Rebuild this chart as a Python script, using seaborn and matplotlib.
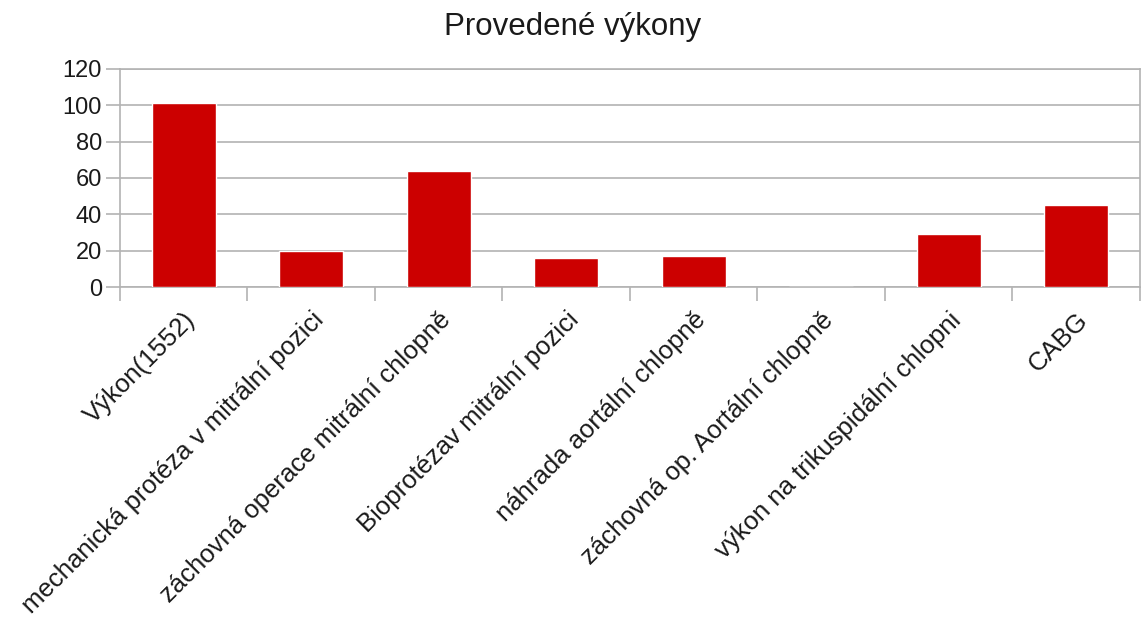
import numpy as np
import pandas as pd
import matplotlib
matplotlib.use("Agg")
import matplotlib.pyplot as plt
import seaborn as sns

categories = [
    "Výkon(1552)",
    "mechanická protéza v mitrální pozici",
    "záchovná operace mitrální chlopně",
    "Bioprotézav mitrální pozici",
    "náhrada aortální chlopně",
    "záchovná op. Aortální chlopně",
    "výkon na trikuspidální chlopni",
    "CABG",
]
counts = [101, 20, 64, 16, 17, 0, 29, 45]
y_ticks = [0, 20, 40, 60, 80, 100, 120]
title = "Provedené výkony"

df = pd.DataFrame({"kategorie": categories, "pocet": counts})

sns.set_style("white")
plt.rcParams["font.family"] = ["Liberation Sans", "DejaVu Sans"]
plt.rcParams["text.color"] = "#1a1a1a"
plt.rcParams["xtick.color"] = "#1a1a1a"
plt.rcParams["ytick.color"] = "#1a1a1a"

grid_col = "#b3b3b3"

fig = plt.figure(figsize=(11.45, 6.2), dpi=100)
ax = fig.add_axes([0.1048, 0.537, 0.8908, 0.352])

sns.barplot(data=df, x="kategorie", y="pocet", color="#cc0000",
            width=0.5, saturation=1, ax=ax, zorder=3)

ax.set_xlim(-0.5, len(categories) - 0.5)
ax.set_ylim(0, 120)
ax.set_yticks(y_ticks)
ax.set_yticklabels([str(v) for v in y_ticks], fontsize=17)
ax.yaxis.grid(True, color=grid_col, linewidth=1.2, zorder=0)
ax.tick_params(axis="y", left=True, length=10, width=1.2,
               color=grid_col, pad=3)

# category labels at centres, separator ticks at boundaries
ax.set_xticks(np.arange(len(categories)))
ax.set_xticklabels(categories, rotation=45, ha="right",
                   rotation_mode="anchor", fontsize=18.5)
ax.tick_params(axis="x", which="major", bottom=True, length=0, pad=15)
ax.set_xticks(np.arange(len(categories) + 1) - 0.5, minor=True)
ax.tick_params(axis="x", which="minor", bottom=True, length=10, width=1.2,
               color=grid_col, direction="out")

for s in ax.spines.values():
    s.set_color(grid_col)
    s.set_linewidth(1.2)

ax.set_xlabel("")
ax.set_ylabel("")
fig.suptitle(title, fontsize=22.5, y=0.98)

fig.savefig("out.png", dpi=100)
